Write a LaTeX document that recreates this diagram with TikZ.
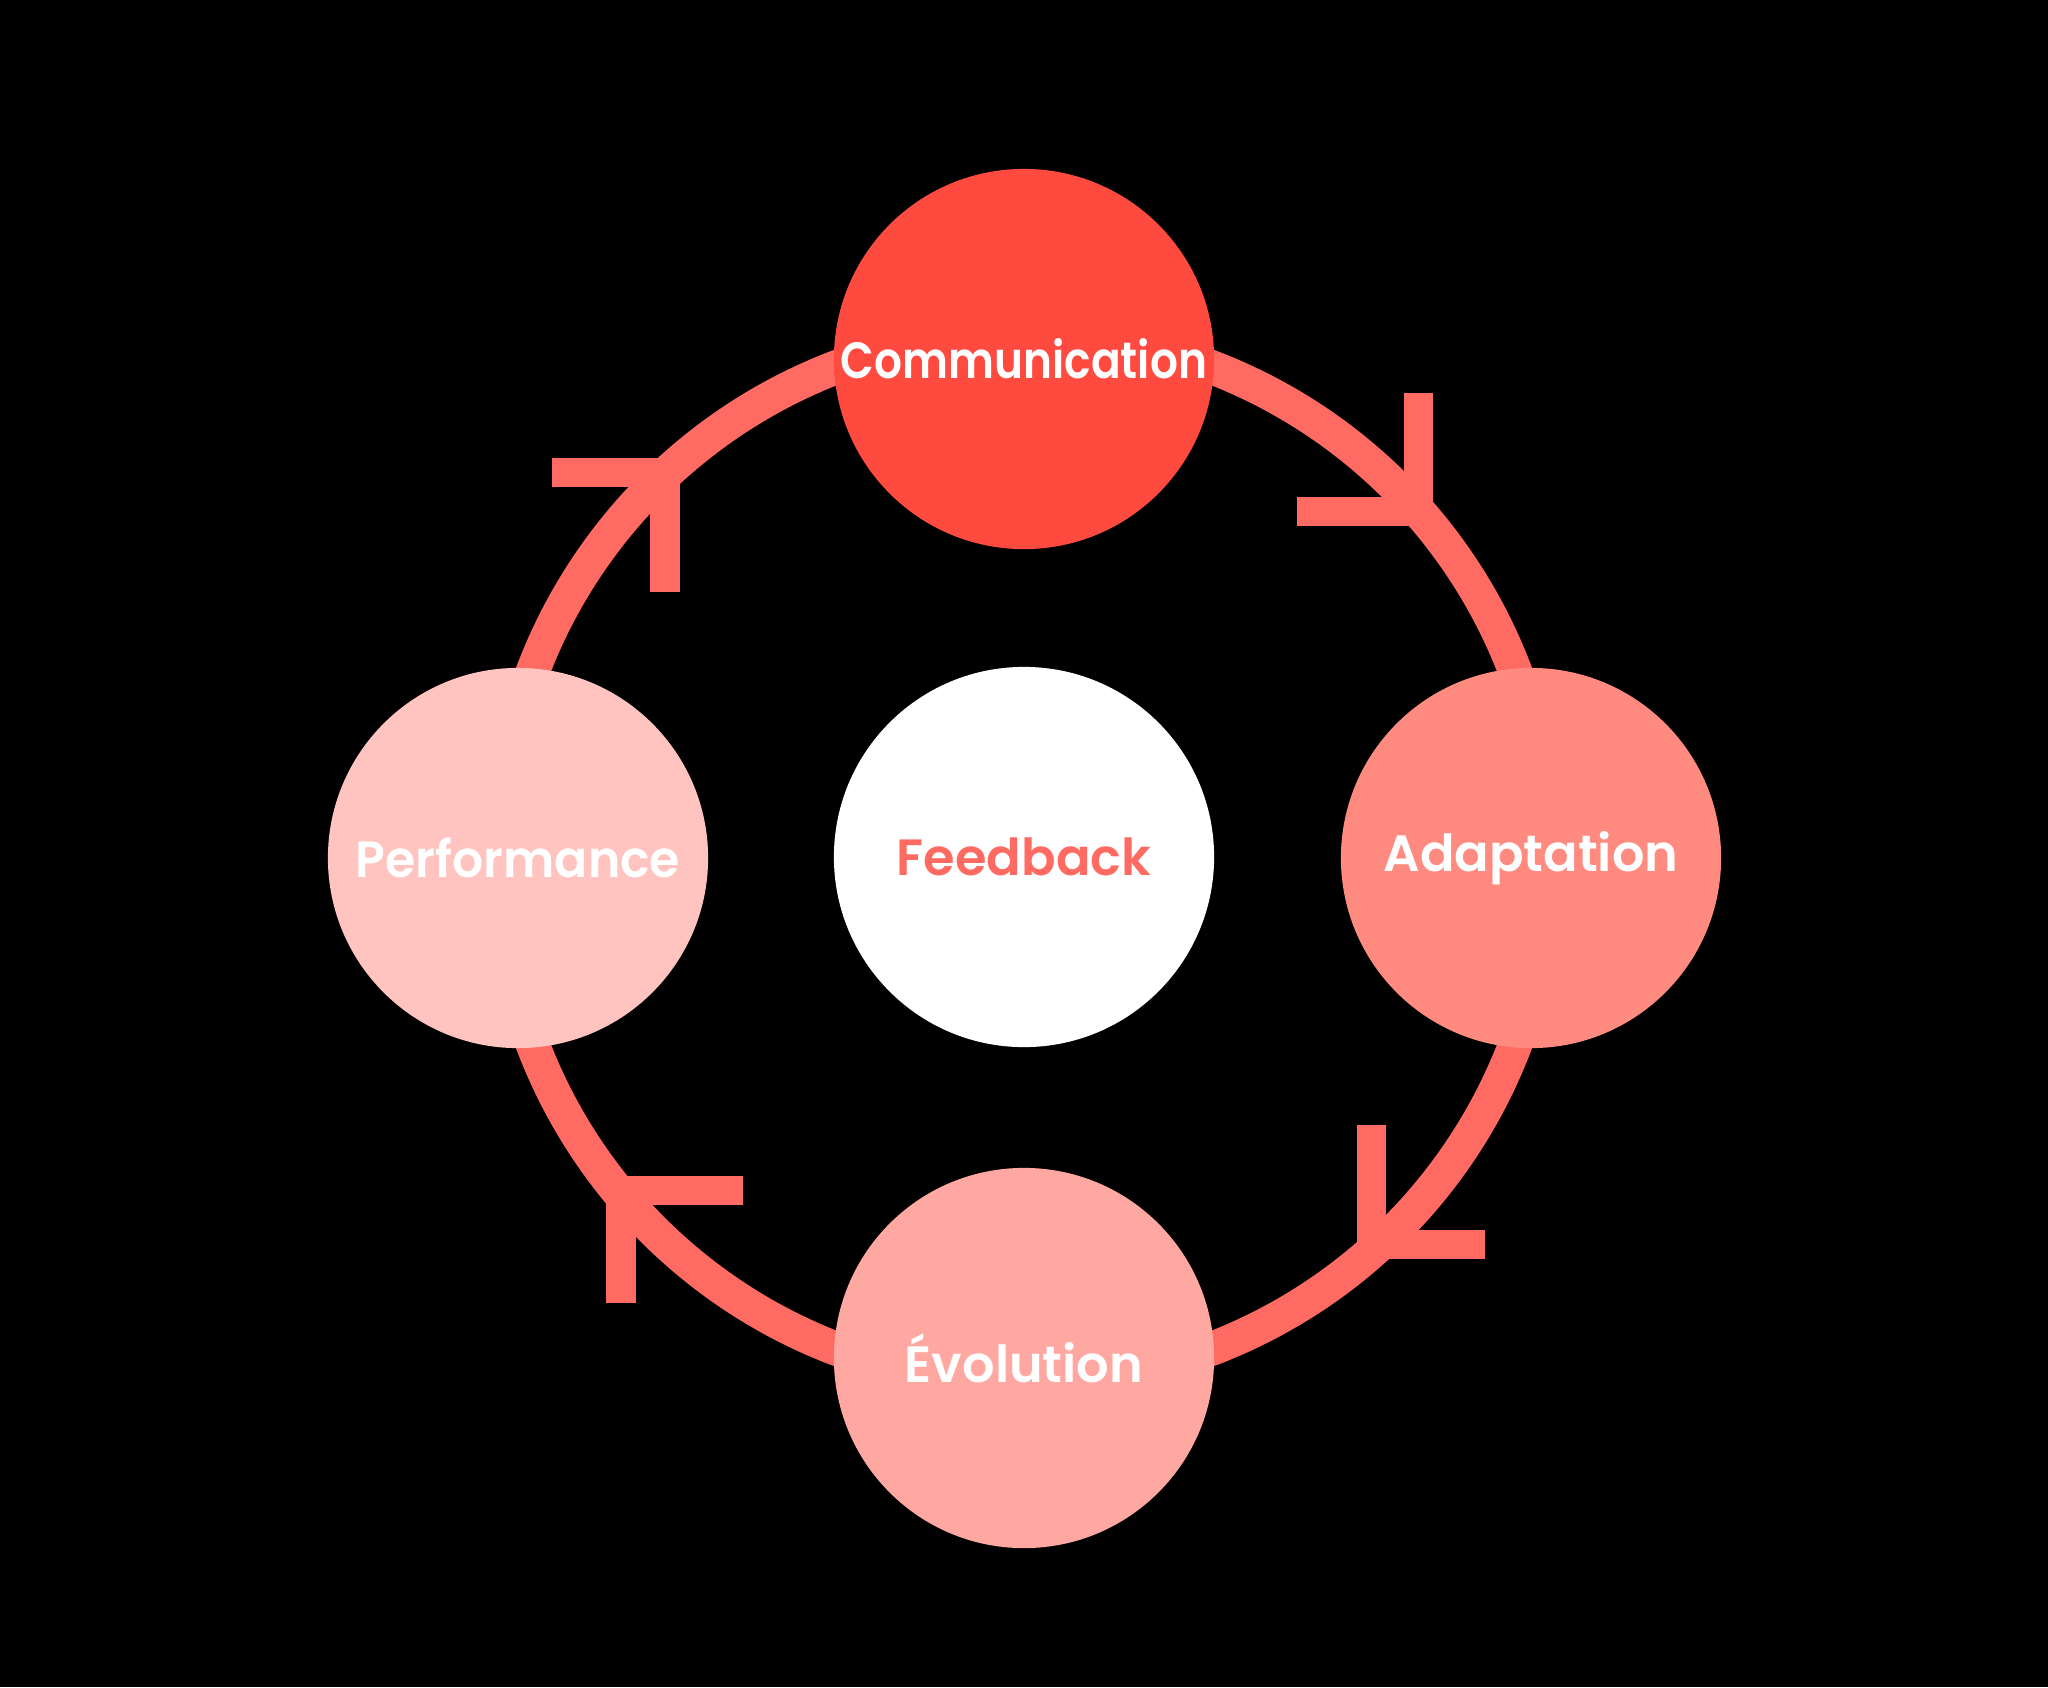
\documentclass[tikz,border=0pt]{standalone}
\usepackage{fontspec}
\setmainfont{Poppins}[BoldFont={Poppins SemiBold}]
\usetikzlibrary{calc}
\definecolor{bgblack}{HTML}{000000}
\definecolor{ringred}{HTML}{FF6A62}
\definecolor{commred}{HTML}{FF4A3F}
\definecolor{adaptred}{HTML}{FF8A80}
\definecolor{evolred}{HTML}{FFA8A2}
\definecolor{perfred}{HTML}{FFC3C0}
\begin{document}
\begin{tikzpicture}[x=0.01cm,y=-0.01cm,
  stage/.style={circle, minimum size=3.8cm, inner sep=0pt},
  stagetext/.style={inner sep=0pt, text=white,
    font=\fontsize{14.5}{16}\selectfont\bfseries},
  ringline/.style={draw=ringred, line width=0.34cm},
  chevron/.style={draw=ringred, line width=0.29cm, line cap=butt, line join=miter}]
  % canvas
  \fill[bgblack] (0,0) rectangle (2048,1687);
  \useasboundingbox (0,0) rectangle (2048,1687);

  % the cycle ring, under the stage circles
  \coordinate (hub) at (1024,858);
  \draw[ringline] (hub) circle[radius=5.25cm];

  % arrowheads along the ring (clockwise)
  \coordinate (tr) at (1418,511);
  \coordinate (tl) at (665,472);
  \coordinate (bl) at (621,1190);
  \coordinate (br) at (1371,1244);
  \draw[chevron] ($(tr)+(0,-118)$) -- (tr) -- ($(tr)+(-121,0)$);
  \draw[chevron] ($(tl)+(-113,0)$) -- (tl) -- ($(tl)+(0,120)$);
  \draw[chevron] ($(bl)+(122,0)$) -- (bl) -- ($(bl)+(0,113)$);
  \draw[chevron] ($(br)+(0,-119)$) -- (br) -- ($(br)+(114,0)$);

  % stage discs
  \node[stage, fill=commred]  (comm) at (1024,359)  {};
  \node[stage, fill=adaptred] (adap) at (1531,858)  {};
  \node[stage, fill=evolred]  (evol) at (1024,1358) {};
  \node[stage, fill=perfred]  (perf) at (518,858)   {};
  \node[stage, fill=white]    (feed) at (1024,857)  {};

  % stage labels (the long word is narrowed to stay inside its disc)
  \node[stagetext] (commlabel) at (comm.center) {\scalebox{0.86}[1]{Communication}};
  \node[stagetext] (adaplabel) at (adap.center) {Adaptation};
  \node[stagetext] (evollabel) at (evol.center) {Évolution};
  \node[stagetext] (perflabel) at (perf.center) {\scalebox{0.96}[1]{Performance}};
  \node[stagetext, text=ringred] (feedlabel) at (feed.center) {Feedback};
\end{tikzpicture}
\end{document}
